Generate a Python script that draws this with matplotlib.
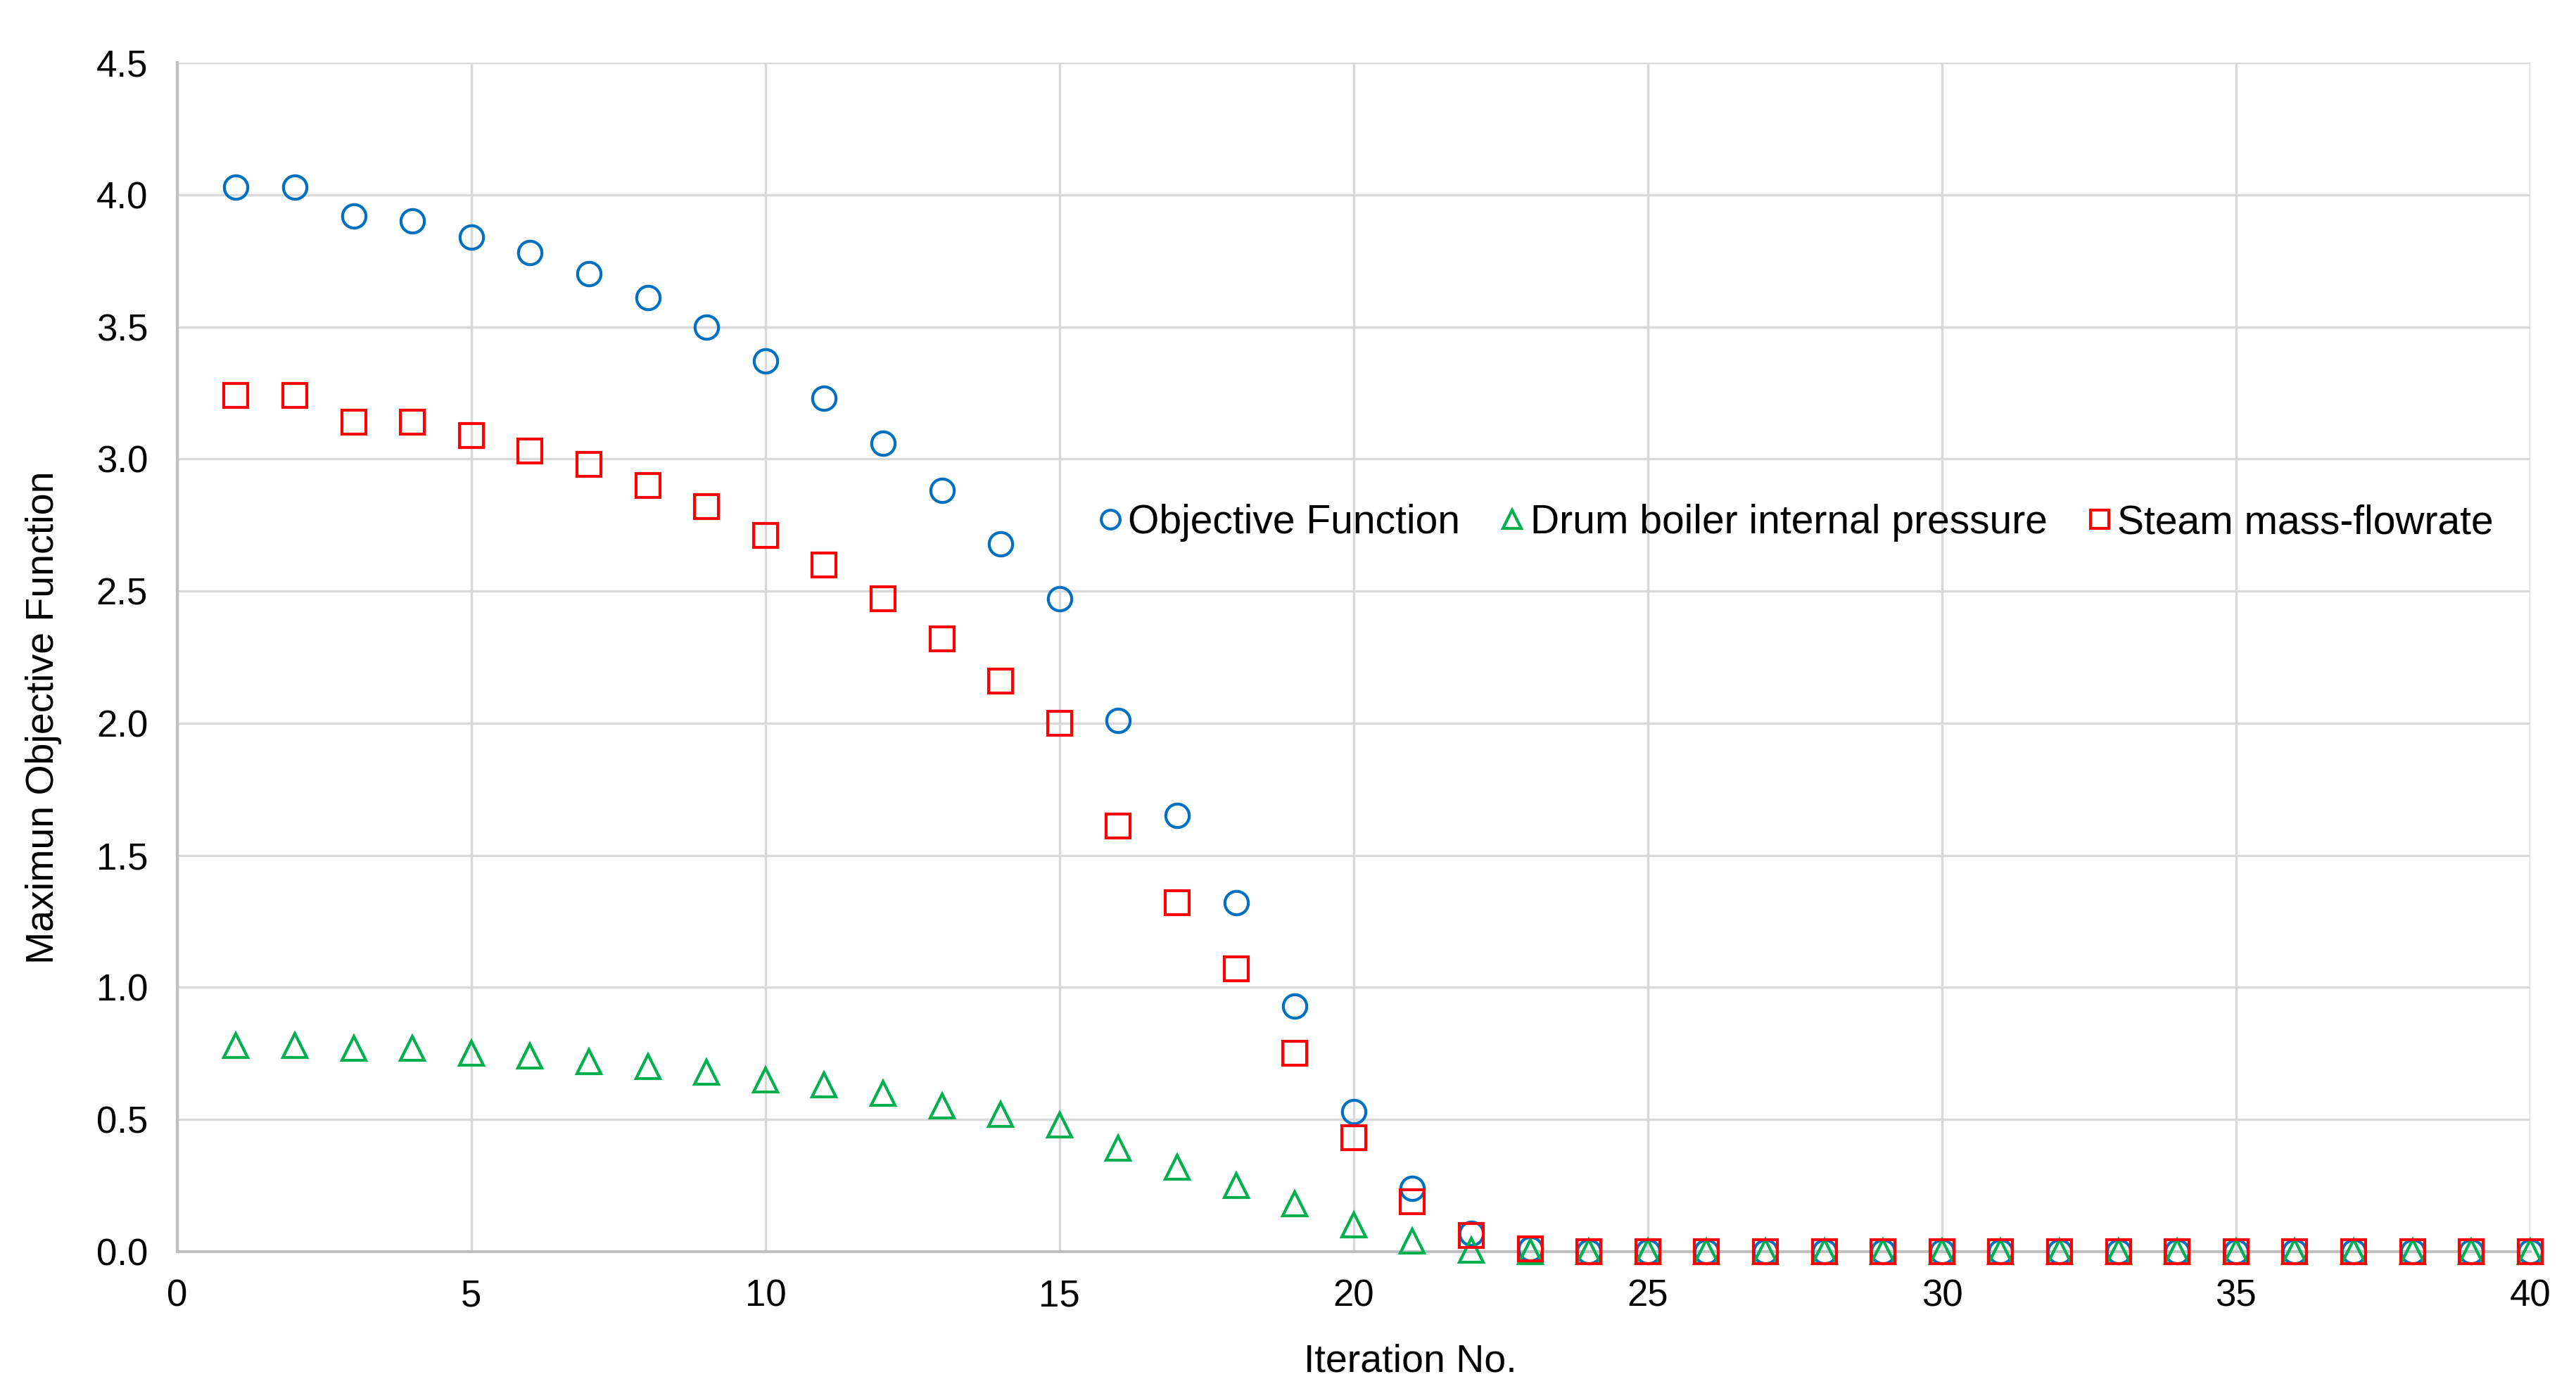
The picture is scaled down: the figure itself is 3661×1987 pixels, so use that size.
import matplotlib
matplotlib.use("Agg")
import matplotlib.pyplot as plt

plt.rcParams["font.family"] = ["Liberation Sans", "DejaVu Sans"]

iterations = list(range(1, 41))
objective = [4.03, 4.03, 3.92, 3.90, 3.84, 3.78, 3.70, 3.61, 3.50, 3.37,
             3.23, 3.06, 2.88, 2.68, 2.47, 2.01, 1.65, 1.32, 0.93, 0.53,
             0.24, 0.07, 0.01] + [0.0] * 17
drum_pressure = [0.78, 0.78, 0.77, 0.77, 0.75, 0.74, 0.72, 0.70, 0.68, 0.65,
                 0.63, 0.60, 0.55, 0.52, 0.48, 0.39, 0.32, 0.25, 0.18, 0.10,
                 0.04, 0.005] + [0.0] * 18
steam_flow = [3.24, 3.24, 3.14, 3.14, 3.09, 3.03, 2.98, 2.90, 2.82, 2.71,
              2.60, 2.47, 2.32, 2.16, 2.00, 1.61, 1.32, 1.07, 0.75, 0.43,
              0.19, 0.06, 0.01] + [0.0] * 17

series = [
    ("Objective Function", objective, "o", "#0070C0"),
    ("Drum boiler internal pressure", drum_pressure, "^", "#00B050"),
    ("Steam mass-flowrate", steam_flow, "s", "#FF0000"),
]

fig = plt.figure(figsize=(36.61, 19.87), dpi=100)
ax = fig.add_axes([0.0688, 0.1047, 0.9134, 0.8505])

for label, vals, marker, color in series:
    ax.plot(iterations, vals, linestyle="none", marker=marker, markersize=24,
            markerfacecolor="none", markeredgecolor=color, markeredgewidth=3,
            label=label, clip_on=False, zorder=3)

ax.set_xlim(0, 40)
ax.set_ylim(0, 4.5)
ax.set_xticks(range(0, 41, 5))
ax.set_yticks([i * 0.5 for i in range(10)])
ax.set_yticklabels([f"{i * 0.5:.1f}" for i in range(10)])
ax.grid(True, color="#D9D9D9", linewidth=2.5)
ax.set_axisbelow(True)
for side in ("top", "right"):
    ax.spines[side].set_visible(False)
for side in ("left", "bottom"):
    ax.spines[side].set_color("#BFBFBF")
    ax.spines[side].set_linewidth(3)
ax.tick_params(axis="both", length=0, labelsize=38)
ax.tick_params(axis="y", pad=30)
ax.tick_params(axis="x", pad=28)

ax.set_xlabel("Iteration No.", fontsize=40)
ax.set_ylabel("Maximun Objective Function", fontsize=40)
ax.xaxis.set_label_coords(0.524, -0.077)
ax.yaxis.set_label_coords(-0.049, 0.449)

ax.legend(loc="center left", bbox_to_anchor=(0.376, 0.613), ncol=3,
          frameon=False, fontsize=41, markerscale=0.8, handlelength=0.6,
          handletextpad=0.15, columnspacing=1.0)

fig.savefig("out.png", dpi=100)
